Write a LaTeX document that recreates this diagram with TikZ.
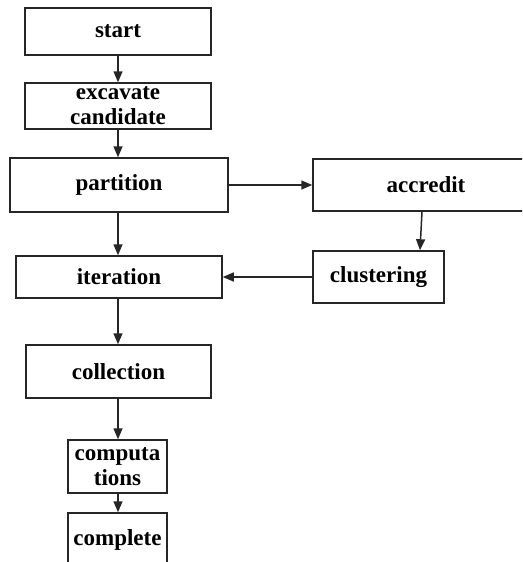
\documentclass[tikz,border=0pt]{standalone}
\usepackage{fontspec}
\setmainfont{Liberation Serif}
\usetikzlibrary{arrows.meta}
\begin{document}
\begin{tikzpicture}[x=1pt,y=-1pt,
  box/.style={draw=black!85,line width=1.5pt,inner sep=0pt,align=center,
    font=\fontsize{23}{25}\selectfont\bfseries,text=black},
  arr/.style={draw=black!85,line width=1.5pt,-{Triangle[length=11pt,width=9pt]}}]
\useasboundingbox (0,0) rectangle (522,562);
\clip (0,0) rectangle (522,562);
\node[box,minimum width=186pt,minimum height=47pt] (start) at (118,31.5) {start};
\node[box,minimum width=186pt,minimum height=46pt] (exc) at (118,106) {excavate\\candidate};
\node[box,minimum width=218pt,minimum height=54pt] (part) at (119,185) {partition};
\node[box,minimum width=226pt,minimum height=52pt] (accr) at (426,185) {accredit};
\node[box,minimum width=131pt,minimum height=52pt] (clus) at (378.5,277) {clustering};
\node[box,minimum width=206pt,minimum height=42pt] (iter) at (119,277) {iteration};
\node[box,minimum width=185pt,minimum height=53pt] (coll) at (118.5,371.5) {collection};
\node[box,minimum width=99pt,minimum height=53pt] (comp) at (117.5,466.5) {computa\\tions};
\node[box,minimum width=99pt,minimum height=54pt] (done) at (117.5,540) {complete};
\draw[arr] (start.south) -- (exc.north);
\draw[arr] (exc.south) -- (exc.south |- part.north);
\draw[arr] ([xshift=-1pt]part.south) -- ([xshift=-1pt]part.south |- iter.north);
\draw[arr] (part.east) -- (accr.west);
\draw[arr] ([xshift=-4pt]accr.south) -- ([xshift=41.5pt]clus.north);
\draw[arr] (clus.west) -- (iter.east);
\draw[arr] ([xshift=-1pt]iter.south) -- ([xshift=-1pt]iter.south |- coll.north);
\draw[arr] ([xshift=-0.5pt]coll.south) -- ([xshift=-0.5pt]coll.south |- comp.north);
\draw[arr] ([xshift=0.5pt]comp.south) -- ([xshift=0.5pt]done.north);
\end{tikzpicture}
\end{document}
